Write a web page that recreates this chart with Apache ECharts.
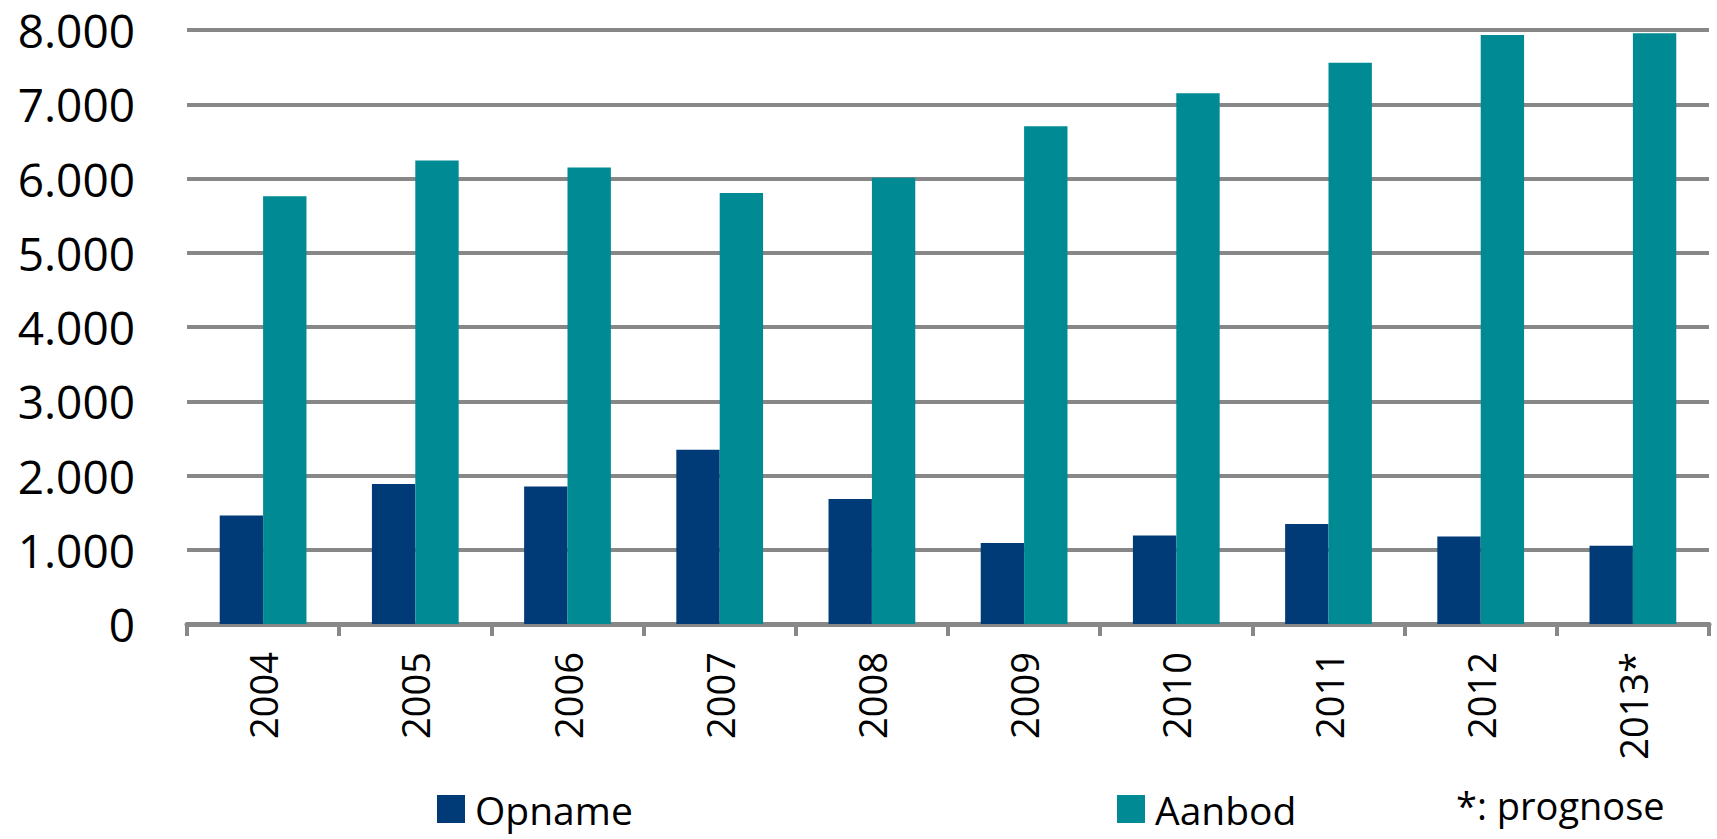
<!DOCTYPE html>
<html>
<head>
<meta charset="utf-8">
<style>
html,body{margin:0;padding:0;background:#fff;}
#chart{width:1717px;height:839px;}
</style>
<script src="https://cdn.jsdelivr.net/npm/echarts@6/dist/echarts.min.js"></script>
</head>
<body>
<div id="chart"></div>
<script>
const categories = ['2004','2005','2006','2007','2008','2009','2010','2011','2012','2013*'];
const opname = [1462, 1884, 1852, 2346, 1682, 1090, 1193, 1346, 1179, 1054];
const aanbod = [5762, 6242, 6148, 5806, 6010, 6704, 7148, 7560, 7933, 7955];
const yTicks = [0, 1000, 2000, 3000, 4000, 5000, 6000, 7000, 8000];
const note = '*: prognose';

const FONT = "'Open Sans', 'Noto Sans', sans-serif";
const chart = echarts.init(document.getElementById('chart'), null, {renderer: 'svg'});

chart.setOption({
  animation: false,
  backgroundColor: '#ffffff',
  textStyle: {fontFamily: FONT},
  grid: {left: 187, right: 8, top: 30, bottom: 215, containLabel: false},
  legend: [
    {
      data: ['Opname'], left: 437, top: 789, padding: 0,
      icon: 'rect', itemWidth: 28, itemHeight: 28,
      textStyle: {fontSize: 39, lineHeight: 40, color: '#000', fontFamily: FONT, padding: [0,0,0,5]}
    },
    {
      data: ['Aanbod'], left: 1117, top: 789, padding: 0,
      icon: 'rect', itemWidth: 28, itemHeight: 28,
      textStyle: {fontSize: 39, lineHeight: 40, color: '#000', fontFamily: FONT, padding: [0,0,0,5]}
    }
  ],
  title: {
    text: note, left: 1456, top: 786, padding: 0,
    textStyle: {fontSize: 38, fontWeight: 'normal', color: '#000', fontFamily: FONT}
  },
  xAxis: {
    type: 'category',
    data: categories,
    boundaryGap: true,
    axisLine: {show: true, lineStyle: {color: '#878787', width: 5}},
    axisTick: {show: true, length: 12, lineStyle: {color: '#878787', width: 4}},
    axisLabel: {rotate: 90, fontSize: 38, color: '#000', margin: 28, fontFamily: FONT}
  },
  yAxis: {
    type: 'value',
    min: yTicks[0], max: yTicks[yTicks.length - 1], interval: 1000,
    axisLine: {show: false},
    axisTick: {show: false},
    splitLine: {show: true, lineStyle: {color: '#878787', width: 4}},
    axisLabel: {
      fontSize: 46, color: '#000', margin: 52, fontFamily: FONT,
      formatter: v => v === 0 ? '0' : (v / 1000) + '.000'
    }
  },
  series: [
    {name: 'Opname', type: 'bar', data: opname, barGap: '0%', barCategoryGap: '43%',
     itemStyle: {color: '#013B77'}},
    {name: 'Aanbod', type: 'bar', data: aanbod, barGap: '0%', barCategoryGap: '43%',
     itemStyle: {color: '#008A94'}}
  ]
});
</script>
</body>
</html>
